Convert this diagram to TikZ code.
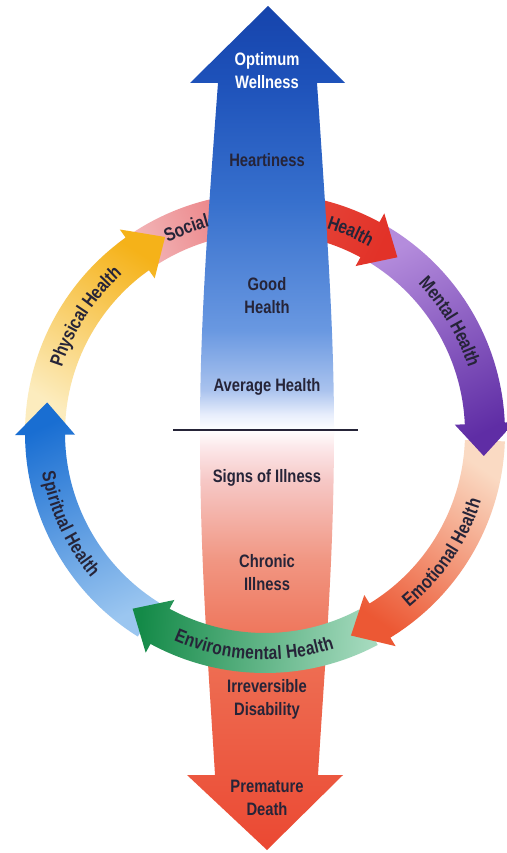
\documentclass[tikz,border=0pt]{standalone}
\usepackage{fontspec}
\newfontfamily\wellfont{Liberation Sans}[FakeStretch=0.82]
\usetikzlibrary{decorations.text}

\definecolor{inktext}{RGB}{38,36,56}
\definecolor{wellF}{RGB}{22,68,172}
\definecolor{wellE}{RGB}{30,82,186}
\definecolor{wellD}{RGB}{55,112,205}
\definecolor{wellC}{RGB}{105,152,225}
\definecolor{wellB}{RGB}{170,195,238}
\definecolor{wellA}{RGB}{232,238,252}
\definecolor{illA}{RGB}{252,232,234}
\definecolor{illB}{RGB}{246,200,198}
\definecolor{illC}{RGB}{241,150,130}
\definecolor{illD}{RGB}{238,112,85}
\definecolor{illE}{RGB}{236,86,62}
\definecolor{illF}{RGB}{235,72,50}
\definecolor{socialA}{RGB}{243,188,190}
\definecolor{socialB}{RGB}{234,120,124}
\definecolor{socialC}{RGB}{232,80,68}
\definecolor{socialD}{RGB}{226,50,40}
\definecolor{physA}{RGB}{252,236,190}
\definecolor{physB}{RGB}{245,178,25}
\definecolor{spirA}{RGB}{155,198,240}
\definecolor{spirB}{RGB}{25,110,210}
\definecolor{envA}{RGB}{165,218,190}
\definecolor{envB}{RGB}{20,138,72}
\definecolor{emoA}{RGB}{250,218,195}
\definecolor{emoB}{RGB}{236,88,52}
\definecolor{mentA}{RGB}{180,140,220}
\definecolor{mentB}{RGB}{95,45,165}

\pgfdeclareverticalshading{wellshade}{100bp}{color(0bp)=(white); color(25bp)=(white);
  color(26.8bp)=(wellA); color(29.7bp)=(wellB); color(36.8bp)=(wellC);
  color(52bp)=(wellD); color(66bp)=(wellE); color(75bp)=(wellF); color(100bp)=(wellF)}
\pgfdeclareverticalshading{illshade}{100bp}{color(0bp)=(illF); color(25bp)=(illF);
  color(33bp)=(illE); color(49bp)=(illD); color(59.5bp)=(illC);
  color(69bp)=(illB); color(73bp)=(illA); color(75bp)=(white); color(100bp)=(white)}

\newcommand{\ringfont}{\wellfont\bfseries\fontsize{19}{19}\selectfont}
% curved arrow on the ring: start angle, tip angle, shading
\newcommand{\ringarrow}[3]{%
  \shade[#3] (#1:240) arc[start angle=#1, end angle=#2-8.5, radius=240]
    -- ({#2-8.5}:250) -- (#2:220) -- ({#2-8.5}:190) -- ({#2-8.5}:200)
    arc[start angle=#2-8.5, end angle=#1, radius=200] -- cycle;}
% label along the ring: first angle, last angle, text
\newcommand{\ringlabel}[3]{%
  \path[decorate, decoration={text along path, text={|\ringfont|#3},
    text align=center, raise=-6.5pt, text color=inktext}]
    (#1:220) arc[start angle=#1, end angle=#2, radius=220];}

\begin{document}
\begin{tikzpicture}[x=1pt,y=-1pt]
    \tikzstyle{stage}=[font=\wellfont\bfseries\fontsize{18}{23}\selectfont,text=inktext,align=center,inner sep=0pt]
    \path[use as bounding box, fill=white] (0,0) rectangle (506,853);
    \begin{scope}[shift={(265,433)}]
      % ring, back parts
      \shade[bottom color=socialA, top color=socialB, shading angle=-70]
        (232:240) arc[start angle=232, end angle=268, radius=240]
        -- (268:200) arc[start angle=268, end angle=232, radius=200] -- cycle;
      \ringarrow{182}{243}{bottom color=physA, top color=physB, shading angle=-32}
      \ringarrow{122}{188}{bottom color=spirA, top color=spirB, shading angle=25}
    \end{scope}
    % lower half of the vertical arrow
    \shade[shading=illshade] (200,430) -- (334,430) .. controls (334,560) and (325,660) .. (318,775)
      -- (343,775) -- (267,850) -- (187,775) -- (215,775) .. controls (208,660) and (200,560) .. (200,430) -- cycle;
    \begin{scope}[shift={(265,433)}]
      \ringarrow{62}{127}{bottom color=envA, top color=envB, shading angle=85.5}
      \ringarrow{2}{67}{bottom color=emoA, top color=emoB, shading angle=145.5}
      \ringarrow{300}{366}{bottom color=mentA, top color=mentB, shading angle=-153}
      \ringarrow{262}{307}{bottom color=socialC, top color=socialD, shading angle=-115}
    \end{scope}
    % upper half of the vertical arrow
    \shade[shading=wellshade] (268,6) -- (345,83) -- (317,83) .. controls (327,230) and (334,330) .. (334,430)
      -- (200,430) .. controls (200,330) and (207,230) .. (218,83) -- (190,83) -- cycle;
    \coordinate (divl) at (173,430);
    \coordinate (divr) at (358,430);
    \draw[line width=2pt, inktext] (divl) -- (divr);
    \node[stage, text=white] (optimum) at (267,71) {Optimum\\Wellness};
    \node[stage] (heartiness) at (267,160) {Heartiness};
    \node[stage] (good) at (267,296) {Good\\Health};
    \node[stage] (average) at (267,387) {Average Health};
    \node[stage] (signs) at (267,478) {Signs of Illness};
    \node[stage] (chronic) at (267,573) {Chronic\\Illness};
    \node[stage] (irreversible) at (267,699) {Irreversible\\Disability};
    \node[stage] (premature) at (267,798) {Premature\\Death};
    \begin{scope}[shift={(265,433)}]
      \ringlabel{173}{253}{Physical Health}
      \ringlabel{229}{269}{Social}
      \ringlabel{273}{313}{Health}
      \ringlabel{289}{369}{Mental Health}
      \ringlabel{74}{-6}{Emotional Health}
      \ringlabel{133}{53}{Environmental Health}
      \ringlabel{195}{115}{Spiritual Health}
    \end{scope}
  \end{tikzpicture}
\end{document}
